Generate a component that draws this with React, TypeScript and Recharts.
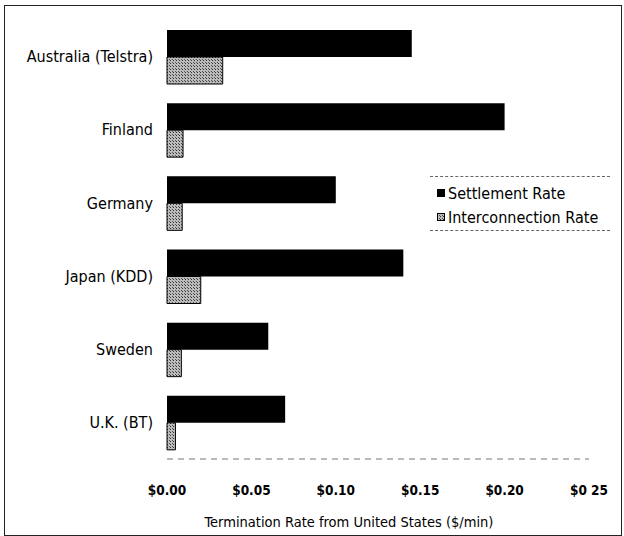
import React from 'react';
import { BarChart, Bar, XAxis, YAxis, Label } from 'recharts';

// Termination rates from the United States ($/min)
const carriers = ['Australia (Telstra)', 'Finland', 'Germany', 'Japan (KDD)', 'Sweden', 'U.K. (BT)'];
const settlementRate = [0.145, 0.2, 0.1, 0.14, 0.06, 0.07];
const interconnectionRate = [0.033, 0.0095, 0.009, 0.02, 0.0085, 0.005];
const rateTicks = [0, 0.05, 0.1, 0.15, 0.2, 0.25];
const tickLabels = ['$0.00', '$0.05', '$0.10', '$0.15', '$0.20', '$0 25'];

const data = carriers.map((name, i) => ({
  name,
  settlement: settlementRate[i],
  interconnection: interconnectionRate[i],
}));

const FONT = '"DejaVu Sans Condensed", "DejaVu Sans", sans-serif';

const LegendBox = () => (
  <div
    style={{
      position: 'absolute',
      left: 425,
      top: 170,
      width: 180,
      fontFamily: FONT,
      fontStretch: 'condensed',
      fontSize: 16,
      color: '#000',
    }}
  >
    <div style={{ borderTop: '1px dashed #666' }} />
    <div style={{ display: 'flex', alignItems: 'center', height: 24, marginTop: 4, paddingLeft: 7 }}>
      <span style={{ display: 'inline-block', width: 8, height: 8, background: '#000', marginRight: 3 }} />
      Settlement Rate
    </div>
    <div style={{ display: 'flex', alignItems: 'center', height: 24, paddingLeft: 7 }}>
      <svg width={8} height={8} style={{ marginRight: 3 }}>
        <rect x={0.5} y={0.5} width={7} height={7} fill="url(#dots)" stroke="#000" />
      </svg>
      Interconnection Rate
    </div>
    <div style={{ borderTop: '1px dashed #666', marginTop: 1 }} />
  </div>
);

const App = () => {
  return (
    <div
      style={{
        position: 'absolute',
        left: 4,
        top: 5,
        width: 616,
        height: 529,
        border: '1px solid #222',
        background: '#fff',
      }}
    >
      <BarChart
        width={616}
        height={529}
        data={data}
        layout="vertical"
        margin={{ top: 14, right: 32, left: 0, bottom: 0 }}
        barCategoryGap={10}
        barGap={0}
      >
        <defs>
          <pattern id="dots" width="3" height="3" patternUnits="userSpaceOnUse">
            <rect width="3" height="3" fill="#bbb" />
            <rect width="1" height="1" fill="#333" />
            <rect x="2" y="2" width="1" height="1" fill="#555" />
          </pattern>
        </defs>
        <XAxis
          type="number"
          domain={[0, 0.25]}
          ticks={rateTicks}
          tickFormatter={(v: number) => tickLabels[rateTicks.indexOf(v)] ?? ''}
          axisLine={{ stroke: '#777', strokeDasharray: '6 5' }}
          tickLine={false}
          tickSize={0}
          tickMargin={26}
          height={76}
          tick={{ fill: '#000', fontSize: 13.5, fontFamily: FONT, fontStretch: 'condensed', fontWeight: 'bold' }}
        >
          <Label
            value="Termination Rate from United States ($/min)"
            position="insideBottom"
            offset={8}
            dx={-29}
            style={{ fill: '#000', fontSize: 14.5, fontFamily: FONT, fontStretch: 'condensed' }}
          />
        </XAxis>
        <YAxis
          type="category"
          dataKey="name"
          width={162}
          axisLine={false}
          tickLine={false}
          tickSize={0}
          tickMargin={14}
          tick={{ fill: '#000', fontSize: 16, fontFamily: FONT, fontStretch: 'condensed' }}
        />
        <Bar dataKey="settlement" name="Settlement Rate" fill="#000" isAnimationActive={false} />
        <Bar
          dataKey="interconnection"
          name="Interconnection Rate"
          fill="url(#dots)"
          stroke="#000"
          strokeWidth={1}
          isAnimationActive={false}
        />
      </BarChart>
      <LegendBox />
    </div>
  );
};

export default App;
